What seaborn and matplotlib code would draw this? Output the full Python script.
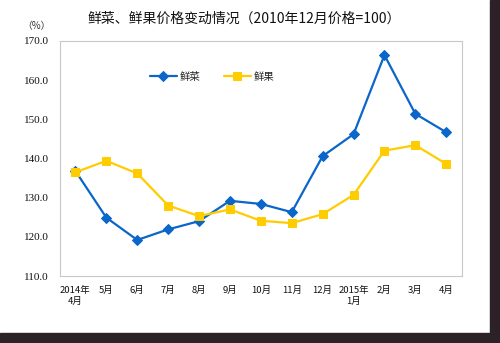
import matplotlib
matplotlib.use("Agg")
import matplotlib.pyplot as plt
import seaborn as sns
import pandas as pd
from matplotlib.patches import Rectangle

# Monthly price index, December 2010 = 100
months = ["2014年\n4月", "5月", "6月", "7月", "8月", "9月", "10月", "11月",
          "12月", "2015年\n1月", "2月", "3月", "4月"]
vegetables = [136.8, 124.9, 119.2, 121.9, 124.0, 129.2, 128.4, 126.3,
              140.6, 146.2, 166.4, 151.4, 146.7]
fruits = [136.5, 139.4, 136.2, 128.0, 125.3, 127.0, 124.1, 123.5,
          125.8, 130.7, 142.0, 143.4, 138.6]
yticks = [110.0, 120.0, 130.0, 140.0, 150.0, 160.0, 170.0]

sns.set_theme(style="white")
plt.rcParams["font.family"] = ["Noto Sans CJK SC", "DejaVu Sans"]

df = pd.DataFrame({"idx": range(len(months)), "veg": vegetables, "fruit": fruits})

fig = plt.figure(figsize=(5.0, 3.43), dpi=100)
fig.patch.set_facecolor("white")
# dark frame along right and bottom edges
fig.patches.append(Rectangle((0.98, 0), 0.02, 1, transform=fig.transFigure,
                             color="#2b2126", zorder=0))
fig.patches.append(Rectangle((0, 0), 1, 0.029, transform=fig.transFigure,
                             color="#2b2126", zorder=0))

ax = fig.add_axes([0.12, 0.1953, 0.8034, 0.6852])

blue = "#0a66c8"
yellow = "#ffcc00"
sns.lineplot(data=df, x="idx", y="veg", ax=ax, color=blue, lw=1.6,
             marker="D", markersize=4.6, markeredgecolor=blue, label="鲜菜")
sns.lineplot(data=df, x="idx", y="fruit", ax=ax, color=yellow, lw=1.6,
             marker="s", markersize=6.2, markeredgecolor=yellow, label="鲜果")

ax.set_xlim(-0.5, len(months) - 0.5)
ax.set_ylim(110, 170)
ax.set_yticks(yticks)
ax.set_yticklabels([f"{v:.1f}" for v in yticks], color="#111111",
                   fontsize=8, family=["Liberation Serif", "Noto Sans CJK SC"])
ax.set_xticks(range(len(months)))
ax.set_xticklabels(months, fontsize=6.8, linespacing=1.25, color="#111111")
ax.tick_params(axis="y", length=0, pad=8)
ax.tick_params(axis="x", length=0, pad=7)
ax.set_xlabel("")
ax.set_ylabel("")
for s in ax.spines.values():
    s.set_color("#c8c8c8")
    s.set_linewidth(0.8)

leg = ax.legend(loc="upper left", bbox_to_anchor=(0.2, 0.91), ncol=2,
                frameon=False, fontsize=7.5, handlelength=2.6,
                columnspacing=2.2, handletextpad=0.3)

fig.text(0.488, 0.945, "鲜菜、鲜果价格变动情况（2010年12月价格=100）",
         ha="center", va="center", fontsize=10, color="#111111")
fig.text(0.072, 0.925, "（%）", ha="center", va="center", fontsize=7,
         color="#333333")

fig.savefig("out.png", dpi=100, facecolor=fig.get_facecolor())
